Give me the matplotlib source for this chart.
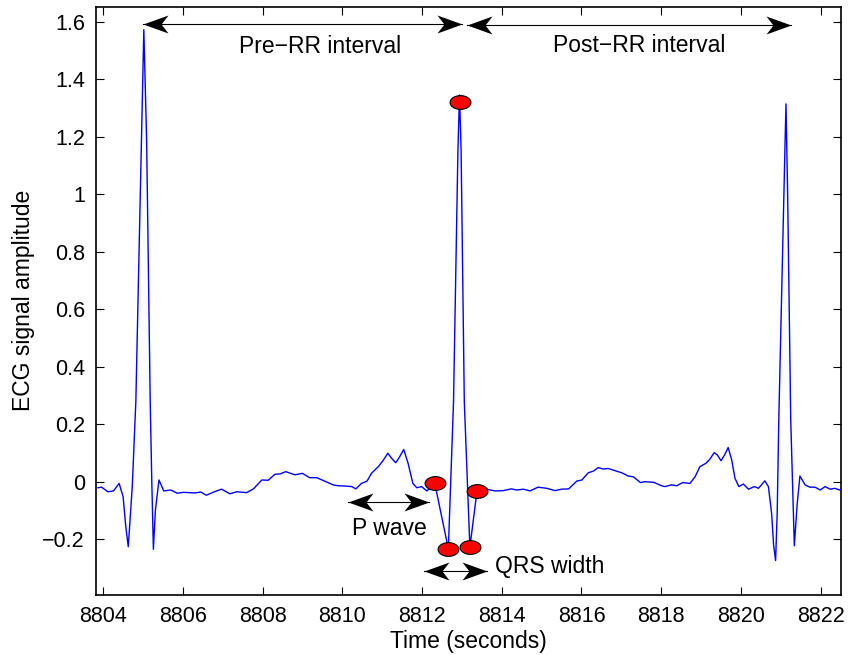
import numpy as np
import matplotlib.pyplot as plt
from matplotlib.path import Path

plt.rcParams['font.family'] = ['Liberation Sans', 'DejaVu Sans']

# ECG trace (time in seconds, amplitude)
ecg_t = [8803.87, 8803.96, 8804.12, 8804.26, 8804.40, 8804.50, 8804.57, 8804.63,
         8804.68, 8804.73, 8804.82, 8804.96, 8805.02, 8805.09, 8805.18, 8805.22,
         8805.26, 8805.31, 8805.40, 8805.52, 8805.70, 8805.86, 8806.01, 8806.30,
         8806.45, 8806.59, 8806.79, 8806.97, 8807.18, 8807.35, 8807.60, 8807.77,
         8807.98, 8808.14, 8808.31, 8808.44, 8808.58, 8808.81, 8809.00, 8809.18,
         8809.36, 8809.56, 8809.77, 8809.89, 8810.06, 8810.24, 8810.34, 8810.48,
         8810.62, 8810.73, 8810.90, 8811.03, 8811.14, 8811.24, 8811.34, 8811.44,
         8811.54, 8811.65, 8811.77, 8811.87, 8811.99, 8812.12, 8812.22, 8812.32,
         8812.66, 8812.79, 8812.90, 8812.94, 8812.98, 8813.06, 8813.20, 8813.38,
         8813.62, 8813.83, 8814.04, 8814.24, 8814.38, 8814.54, 8814.71, 8814.91,
         8815.13, 8815.34, 8815.50, 8815.68, 8815.88, 8816.01, 8816.17, 8816.30,
         8816.42, 8816.55, 8816.67, 8816.85, 8817.01, 8817.17, 8817.30, 8817.48,
         8817.59, 8817.81, 8818.01, 8818.09, 8818.26, 8818.39, 8818.54, 8818.72,
         8818.85, 8818.97, 8819.12, 8819.22, 8819.33, 8819.41, 8819.50, 8819.59,
         8819.68, 8819.77, 8819.85, 8819.95, 8820.06, 8820.19, 8820.34, 8820.44,
         8820.60, 8820.69, 8820.77, 8820.82, 8820.87, 8820.91, 8820.95, 8821.08,
         8821.13, 8821.17, 8821.25, 8821.34, 8821.41, 8821.48, 8821.61, 8821.73,
         8821.86, 8821.99, 8822.11, 8822.24, 8822.36, 8822.48, 8822.54]
ecg_v = [-0.021, -0.019, -0.035, -0.032, -0.006, -0.052, -0.160, -0.226,
         -0.120, -0.017, 0.280, 1.190, 1.572, 1.190, 0.280, 0.000,
         -0.235, -0.100, 0.006, -0.032, -0.029, -0.040, -0.037, -0.039,
         -0.036, -0.047, -0.035, -0.026, -0.042, -0.035, -0.038, -0.025,
         0.006, 0.005, 0.026, 0.027, 0.035, 0.024, 0.029, 0.014,
         0.014, 0.002, -0.011, -0.014, -0.015, -0.017, -0.025, -0.006,
         0.002, 0.029, 0.052, 0.075, 0.099, 0.081, 0.066, 0.087,
         0.112, 0.064, -0.006, -0.021, -0.017, -0.032, -0.020, -0.006,
         -0.234, 0.280, 1.150, 1.345, 1.150, 0.280, -0.228, -0.031,
         -0.026, -0.032, -0.031, -0.025, -0.029, -0.026, -0.032, -0.019,
         -0.023, -0.031, -0.026, -0.025, 0.002, 0.006, 0.031, 0.037,
         0.049, 0.044, 0.046, 0.038, 0.031, 0.020, 0.017, -0.003,
         0.000, -0.002, -0.014, -0.017, -0.011, -0.014, -0.003, -0.006,
         0.017, 0.052, 0.064, 0.078, 0.101, 0.093, 0.073, 0.093,
         0.119, 0.075, 0.012, -0.017, -0.008, -0.026, -0.017, -0.023,
         0.003, -0.017, -0.110, -0.220, -0.274, -0.110, 0.214, 1.020,
         1.314, 1.020, 0.214, -0.223, -0.080, 0.020, -0.011, -0.019,
         -0.019, -0.029, -0.017, -0.026, -0.023, -0.029, -0.026]

# fiducial points: QRS onset, Q, R, S, QRS end
fid_t = [8812.32, 8812.66, 8812.94, 8813.20, 8813.38]
fid_v = [-0.006, -0.234, 1.322, -0.228, -0.031]

xticks = list(range(8804, 8823, 2))
yticks = [-0.2, 0, 0.2, 0.4, 0.6, 0.8, 1, 1.2, 1.4, 1.6]
ytick_labels = ['\u22120.2', '0', '0.2', '0.4', '0.6', '0.8', '1', '1.2', '1.4', '1.6']

fig = plt.figure(figsize=(8.48, 6.55), dpi=100)
ax = fig.add_axes([0.1132, 0.0916, 0.8785, 0.8982])

ax.plot(ecg_t, ecg_v, color='blue', lw=1.0, zorder=3)

# elliptical red markers
th = np.linspace(0, 2 * np.pi, 40)
ellipse = Path(np.column_stack([np.cos(th), 0.66 * np.sin(th)]), closed=True)
ax.plot(fid_t, fid_v, linestyle='none', marker=ellipse, markersize=15,
        markerfacecolor='red', markeredgecolor='black', markeredgewidth=0.8, zorder=4)

# MATLAB-like double arrows with notched heads
head_r = Path([(0, 0), (-1, 0.36), (-0.72, 0), (-1, -0.36), (0, 0)], closed=True)
head_l = Path([(0, 0), (1, 0.36), (0.72, 0), (1, -0.36), (0, 0)], closed=True)


def double_arrow(x0, x1, y):
    ax.plot([x0, x1], [y, y], color='black', lw=0.8, zorder=5)
    ax.plot([x0], [y], marker=head_l, markersize=36, color='black', mew=0, zorder=6)
    ax.plot([x1], [y], marker=head_r, markersize=36, color='black', mew=0, zorder=6)


double_arrow(8805.01, 8812.99, 1.592)
double_arrow(8813.12, 8821.25, 1.589)
double_arrow(8810.15, 8812.18, -0.069)
double_arrow(8812.05, 8813.63, -0.310)

fs = 16.5
ax.text(8809.44, 1.512, 'Pre\u2212RR interval', fontsize=fs, ha='center', va='center')
ax.text(8817.44, 1.518, 'Post\u2212RR interval', fontsize=fs, ha='center', va='center')
ax.text(8811.17, -0.161, 'P wave', fontsize=fs, ha='center', va='center')
ax.text(8813.83, -0.295, 'QRS width', fontsize=fs, ha='left', va='center')

ax.set_xlim(8803.82, 8822.51)
ax.set_ylim(-0.394, 1.652)
ax.set_xticks(xticks)
ax.set_xticklabels([str(x) for x in xticks])
ax.set_yticks(yticks)
ax.set_yticklabels(ytick_labels)
ax.tick_params(direction='in', length=6, width=0.8, top=True, right=True,
               labelsize=15.5, pad=8)
for sp in ax.spines.values():
    sp.set_linewidth(1.2)

ax.set_xlabel('Time (seconds)', fontsize=fs, labelpad=2)
ax.set_ylabel('ECG signal amplitude', fontsize=fs, labelpad=5)

fig.savefig('out.png', dpi=100)
